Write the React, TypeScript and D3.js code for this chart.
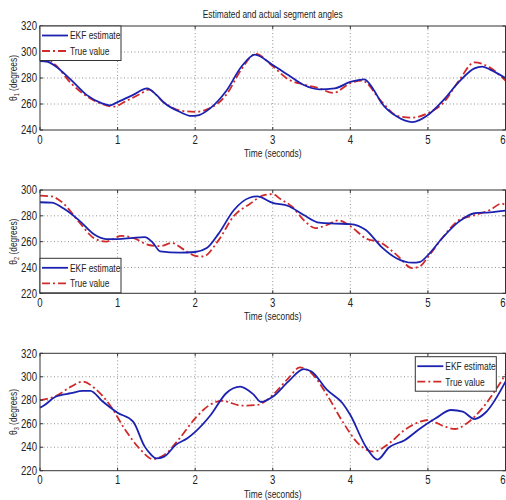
import React from "react";
import * as d3 from "d3";

const width = 506;
const height = 500;
const left = 40;
const right = 505.5;
const font = "'Liberation Sans', Arial, sans-serif";
const narrow = 0.8;

const title = "Estimated and actual segment angles";
const xTicks = [0, 1, 2, 3, 4, 5, 6];
const legendLabels = ["EKF estimate", "True value"];

// [time, angle]
const ekf1: [number, number][] = [
  [0, 293], [0.1, 292.5], [0.2, 289], [0.4, 278.5], [0.6, 267], [0.8, 260.5], [0.9, 259],
  [1.0, 261.5], [1.2, 267], [1.38, 272], [1.5, 267], [1.6, 261], [1.8, 254], [1.95, 250.8],
  [2.05, 251.5], [2.2, 257], [2.4, 270], [2.6, 289], [2.77, 298], [3.0, 290], [3.2, 282.3],
  [3.4, 274.6], [3.6, 271.3], [3.8, 272], [4.0, 277], [4.18, 279], [4.3, 271], [4.4, 261],
  [4.6, 250.3], [4.8, 246], [5.0, 251.5], [5.2, 263], [5.4, 277], [5.6, 287.4], [5.7, 288.7],
  [5.8, 286.5], [6.0, 280],
];
const true1: [number, number][] = [
  [0, 293.5], [0.1, 294.5], [0.2, 290], [0.4, 276], [0.6, 266], [0.8, 260], [0.95, 258],
  [1.1, 262], [1.3, 268], [1.4, 271], [1.6, 261], [1.8, 255], [2.0, 254], [2.2, 257],
  [2.4, 267], [2.6, 287], [2.78, 298.5], [3.0, 289], [3.2, 279], [3.4, 275], [3.6, 272],
  [3.78, 268.5], [4.0, 276], [4.15, 278], [4.4, 262], [4.6, 251], [4.8, 249.5], [5.0, 253],
  [5.2, 261], [5.4, 278], [5.6, 292], [5.8, 288], [6.0, 278],
];
const ekf2: [number, number][] = [
  [0, 290.5], [0.15, 290.2], [0.3, 285.8], [0.5, 276.7], [0.7, 265.5], [0.85, 262], [1.0, 262],
  [1.2, 263], [1.35, 263.5], [1.45, 259.5], [1.55, 252.5], [1.8, 251.5], [2.0, 252], [2.15, 255],
  [2.3, 266], [2.5, 284.5], [2.7, 294], [2.8, 295], [3.0, 290], [3.2, 287.6], [3.4, 280.6],
  [3.6, 274.7], [3.8, 274], [4.0, 273.6], [4.2, 269], [4.4, 256], [4.6, 247], [4.8, 243.7],
  [4.9, 244.4], [5.0, 249.6], [5.2, 263.8], [5.4, 275.5], [5.6, 282], [5.8, 282.7], [6.0, 284],
];
const true2: [number, number][] = [
  [0, 295.6], [0.15, 295], [0.3, 289.7], [0.5, 275.4], [0.7, 262.5], [0.85, 260], [1.05, 264.4],
  [1.2, 263], [1.4, 257.4], [1.55, 256.5], [1.7, 259], [1.85, 254], [2.0, 249], [2.1, 248.5],
  [2.3, 261], [2.5, 280], [2.7, 289], [2.9, 296.3], [3.0, 296.8], [3.1, 293], [3.25, 287],
  [3.4, 276.7], [3.55, 270.5], [3.7, 272.9], [3.85, 276.5], [4.0, 272], [4.2, 262.5],
  [4.4, 259], [4.6, 249.6], [4.8, 239.5], [4.9, 241], [5.0, 248], [5.2, 264], [5.4, 276.7],
  [5.6, 280.5], [5.8, 284.5], [5.95, 289.5], [6.0, 288],
];
const ekf3: [number, number][] = [
  [0, 273.7], [0.05, 275.5], [0.2, 283], [0.4, 286], [0.55, 288], [0.65, 288], [0.8, 279.4],
  [1.0, 269.4], [1.2, 261.8], [1.35, 240.5], [1.42, 234.5], [1.5, 230.5], [1.6, 232],
  [1.75, 242], [1.9, 247.6], [2.0, 253], [2.2, 267.4], [2.4, 286], [2.58, 291.6], [2.75, 285],
  [2.85, 278.5], [3.0, 283], [3.2, 295.9], [3.4, 306.5], [3.5, 304.4], [3.7, 288.8],
  [3.9, 277.4], [4.0, 267.4], [4.2, 240.5], [4.35, 229.5], [4.5, 240], [4.7, 246], [4.9, 256],
  [5.1, 264.6], [5.3, 271.7], [5.45, 270.3], [5.6, 264], [5.75, 270], [6.0, 295.9],
];
const true3: [number, number][] = [
  [0, 280.2], [0.2, 283.5], [0.4, 291.6], [0.55, 295.9], [0.7, 290.5], [0.9, 276], [1.1, 254.7],
  [1.3, 237.6], [1.45, 230], [1.6, 233.4], [1.8, 247.6], [2.0, 264.6], [2.2, 276.5],
  [2.35, 279.5], [2.6, 275.4], [2.8, 276], [3.0, 284.5], [3.2, 298.7], [3.35, 308], [3.5, 303],
  [3.7, 284.5], [3.9, 261.8], [4.1, 243.3], [4.3, 236.2], [4.5, 243.3], [4.7, 254.7],
  [4.9, 261.8], [5.0, 263.2], [5.2, 258], [5.35, 255.5], [5.5, 260.3], [5.7, 273.1],
  [5.9, 291.6], [6.0, 302],
];

const panels = [
  { sub: "1", top: 26, bottom: 130, domain: [240, 320], ekf: ekf1, truth: true1, legend: { x: 40, y: 26 } },
  { sub: "2", top: 190, bottom: 293.3, domain: [220, 300], ekf: ekf2, truth: true2, legend: { x: 40, y: 258.3 } },
  { sub: "3", top: 353.3, bottom: 470.7, domain: [220, 320], ekf: ekf3, truth: true3, legend: { x: 415.3, y: 356.7 } },
];

const blue = "#1c22b0";
const red = "#d02a2a";
const dashDot = "8,3,2,3";

// condensed text: the reference uses a narrow Helvetica
function NText({ x, y, anchor = "start", size = 10, children }: any) {
  return (
    <text transform={`translate(${x},${y}) scale(${narrow},1)`} textAnchor={anchor}
      fontSize={size} fill="#222">{children}</text>
  );
}

function Panel({ p }: { p: (typeof panels)[number] }) {
  const x = d3.scaleLinear().domain([0, 6]).range([left, right]);
  const y = d3.scaleLinear().domain(p.domain).range([p.bottom, p.top]);
  const yTicks = d3.range(p.domain[0], p.domain[1] + 1, 20);
  const line = d3
    .line<[number, number]>()
    .x((d) => x(d[0]))
    .y((d) => y(d[1]))
    .curve(d3.curveMonotoneX);
  const mid = (p.top + p.bottom) / 2;
  const lg = p.legend;

  return (
    <g>
      <rect x={left} y={p.top} width={right - left} height={p.bottom - p.top} fill="#fff" />
      {xTicks.slice(1, -1).map((t) => (
        <line key={"gx" + t} x1={x(t)} x2={x(t)} y1={p.top} y2={p.bottom}
          stroke="#888" strokeDasharray="1,2.5" strokeWidth={0.9} />
      ))}
      {yTicks.slice(1, -1).map((t) => (
        <line key={"gy" + t} x1={left} x2={right} y1={y(t)} y2={y(t)}
          stroke="#888" strokeDasharray="1,2.5" strokeWidth={0.9} />
      ))}
      <path d={line(p.truth) ?? ""} fill="none" stroke={red} strokeWidth={1.8} strokeDasharray={dashDot} />
      <path d={line(p.ekf) ?? ""} fill="none" stroke={blue} strokeWidth={1.8} />
      <rect x={left} y={p.top} width={right - left} height={p.bottom - p.top}
        fill="none" stroke="#333" strokeWidth={1} />
      {xTicks.map((t, i) => (
        <g key={"tx" + t}>
          <line x1={x(t)} x2={x(t)} y1={p.bottom} y2={p.bottom - 3} stroke="#333" />
          <line x1={x(t)} x2={x(t)} y1={p.top} y2={p.top + 3} stroke="#333" />
          <NText x={i === xTicks.length - 1 ? width - 0.5 : x(t)} y={p.bottom + 13.5}
            anchor={i === xTicks.length - 1 ? "end" : "middle"} size={12}>{t}</NText>
        </g>
      ))}
      {yTicks.map((t) => (
        <g key={"ty" + t}>
          <line x1={left} x2={left + 3} y1={y(t)} y2={y(t)} stroke="#333" />
          <line x1={right} x2={right - 3} y1={y(t)} y2={y(t)} stroke="#333" />
          <NText x={37} y={y(t) + 4.2} anchor="end" size={12}>{t}</NText>
        </g>
      ))}
      <NText x={(left + right) / 2} y={p.bottom + 27} anchor="middle" size={10.5}>
        Time (seconds)
      </NText>
      <text transform={`translate(17,${mid}) rotate(-90) scale(${narrow},1)`} textAnchor="middle"
        fontSize={10.5} fill="#222">
        θ<tspan fontSize={7} dy={2}>{p.sub}</tspan>
        <tspan dy={-2}>{"  (degrees)"}</tspan>
      </text>
      <g transform={`translate(${lg.x},${lg.y})`}>
        <rect width={81} height={34.5} fill="#fff" stroke="#333" strokeWidth={1} />
        <line x1={2} x2={28} y1={9.5} y2={9.5} stroke={blue} strokeWidth={1.8} />
        <line x1={2} x2={28} y1={25} y2={25} stroke={red} strokeWidth={1.8} strokeDasharray={dashDot} />
        <NText x={30} y={13.3} size={10.5}>{legendLabels[0]}</NText>
        <NText x={30} y={28.8} size={10.5}>{legendLabels[1]}</NText>
      </g>
    </g>
  );
}

export default function App() {
  return (
    <svg width={width} height={height} fontFamily={font}
      style={{ position: "absolute", left: 0, top: 0, background: "#fff" }}>
      <rect width={width} height={height} fill="#fff" />
      <NText x={(left + right) / 2} y={18} anchor="middle" size={10.5}>{title}</NText>
      {panels.map((p) => (
        <Panel key={p.sub} p={p} />
      ))}
    </svg>
  );
}
